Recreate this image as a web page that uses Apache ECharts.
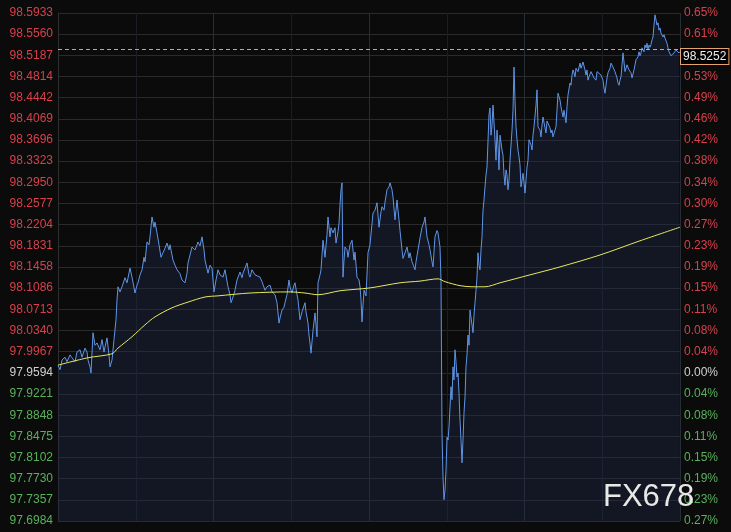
<!DOCTYPE html>
<html><head><meta charset="utf-8">
<script src="https://cdn.jsdelivr.net/npm/echarts@6/dist/echarts.min.js"></script>
<style>html,body{margin:0;padding:0;background:#0b0b0b;}#c{width:731px;height:532px;}</style>
</head><body><div id="c"></div>
<script>
const priceLabels = ['98.5933','98.5560','98.5187','98.4814','98.4442','98.4069','98.3696','98.3323','98.2950','98.2577','98.2204','98.1831','98.1458','98.1086','98.0713','98.0340','97.9967','97.9594','97.9221','97.8848','97.8475','97.8102','97.7730','97.7357','97.6984'];
const pctLabels = ['0.65%','0.61%','0.57%','0.53%','0.49%','0.46%','0.42%','0.38%','0.34%','0.30%','0.27%','0.23%','0.19%','0.15%','0.11%','0.08%','0.04%','0.00%','0.04%','0.08%','0.11%','0.15%','0.19%','0.23%','0.27%'];
const basePrice = 97.9594;
const lastPrice = 98.5252;
const watermark = 'FX678';

const priceTimes = [0,2,4,7,9,12,14,17,19,22,24,27,29,30,32,33,35,37,39,42,44,46,47,49,51,52,54,56,58,59,60,62,64,67,69,72,74,77,79,80,82,84,86,87,89,91,92,94,96,97,99,101,103,105,107,109,111,112,115,117,119,122,124,127,129,130,132,134,137,139,140,142,144,146,147,150,152,154,156,158,160,
162,165,167,170,172,173,175,177,179,182,184,185,187,189,191,192,194,195,197,199,202,204,205,207,209,212,214,215,217,219,221,222,224,226,227,229,231,232,234,236,237,239,240,242,244,245,247,248,250,251,252,253,255,257,259,260,262,263,264,265,267,269,270,272,273,275,277,278,280,281,282,283,284,285,286,287,289,290,292,294,296,297,299,301,302,303,304,305,306,308,309,310,312,315,
317,319,321,323,324,326,327,329,331,332,334,335,337,338,339,341,342,344,345,347,348,349,351,352,354,355,357,358,360,362,364,366,367,369,371,372,374,375,377,379,380,382,383,384,385,386,387,388,389,390,391,393,394,395,396,397,398,399,400,401,402,403,404,405,406,407,408,409,410,411,412,414,415,416,417,418,419,420,421,422,423,424,425,426,427,428,429,
431,432,433,434,435,437,438,439,440,441,442,444,445,446,447,448,449,450,451,452,454,455,456,457,458,459,460,461,462,463,464,465,466,467,468,469,470,471,473,474,475,476,478,479,480,482,483,484,485,487,488,489,490,492,493,494,495,497,498,499,500,502,503,504,505,506,508,509,510,512,513,514,515,516,517,518,519,520,522,523,524,525,527,528,529,530,531,533,535,536,538,539,541,543,545,546,547,548,549,550,552,553,554,555,557,558,559,560,561,562,563,564,565,566,567,568,569,570,571,572,573,574,575,576,577,578,579,580,581,582,583,584,585,586,587,588,589,590,591,592,593,594,595,596,597,598,599,600,601,602,603,604,605,606,607,608,609,610,611,612,613,614,615,616,617,618,619,620,621,622];

const priceValues = [97.973,97.965,97.982,97.987,97.979,97.991,97.986,97.979,97.996,98.000,97.987,98.003,97.996,97.982,97.970,97.959,98.030,98.008,98.012,98.000,98.018,97.996,98.005,98.021,97.991,97.970,97.982,98.018,98.053,98.088,98.111,98.102,98.111,98.127,98.118,98.144,98.128,98.100,98.114,98.118,98.132,98.141,98.163,98.155,98.190,98.185,98.199,98.234,98.216,98.225,98.206,98.185,98.163,98.171,98.179,98.188,98.176,98.185,98.158,98.149,98.141,98.134,98.123,98.118,98.135,98.153,98.167,98.181,98.176,98.185,98.190,98.183,98.199,98.176,98.158,98.135,98.149,98.144,98.102,98.123,98.141,
98.132,98.128,98.141,98.111,98.097,98.083,98.093,98.105,98.123,98.137,98.127,98.135,98.144,98.153,98.132,98.128,98.141,98.144,98.132,98.135,98.128,98.120,98.118,98.105,98.111,98.114,98.102,98.105,98.097,98.083,98.047,98.056,98.070,98.075,98.083,98.097,98.123,98.111,98.100,98.114,98.118,98.097,98.088,98.053,98.067,98.070,98.083,98.067,98.047,98.026,98.012,97.994,98.034,98.065,98.023,98.118,98.132,98.141,98.167,98.193,98.163,98.203,98.234,98.199,98.215,98.206,98.215,98.188,98.208,98.223,98.255,98.282,98.294,98.128,98.158,98.181,98.176,98.163,98.185,98.193,98.158,98.172,98.128,98.123,98.111,98.088,98.049,98.079,98.105,98.095,98.093,98.171,98.185,98.241,
98.246,98.259,98.216,98.243,98.252,98.246,98.260,98.282,98.287,98.294,98.282,98.269,98.229,98.246,98.264,98.229,98.210,98.176,98.161,98.163,98.176,98.181,98.162,98.171,98.155,98.158,98.141,98.155,98.176,98.197,98.216,98.225,98.234,98.199,98.185,98.176,98.155,98.146,98.199,98.210,98.206,98.181,98.123,97.853,97.776,97.736,97.753,97.788,97.846,97.841,97.864,97.935,97.912,97.970,97.947,98.000,97.979,97.952,97.959,97.924,97.876,97.841,97.801,97.841,97.889,97.917,97.970,97.991,98.026,98.008,98.070,98.044,98.030,98.061,98.083,98.105,98.128,98.171,98.149,98.141,98.176,98.199,98.246,98.264,98.287,98.308,98.322,
98.414,98.426,98.378,98.396,98.431,98.370,98.334,98.387,98.361,98.317,98.378,98.352,98.343,98.308,98.290,98.317,98.308,98.282,98.299,98.334,98.387,98.422,98.498,98.440,98.393,98.370,98.352,98.340,98.326,98.287,98.299,98.311,98.294,98.276,98.299,98.322,98.334,98.370,98.361,98.352,98.378,98.393,98.431,98.458,98.393,98.387,98.375,98.396,98.410,98.391,98.382,98.403,98.400,98.391,98.382,98.387,98.375,98.387,98.393,98.422,98.452,98.440,98.428,98.419,98.410,98.422,98.400,98.428,98.449,98.470,98.466,98.484,98.493,98.488,98.481,98.496,98.498,98.490,98.505,98.496,98.493,98.507,98.493,98.484,98.493,98.475,98.481,98.490,98.488,98.479,98.475,98.490,98.493,98.484,98.475,98.461,98.452,98.466,98.479,98.488,98.496,98.505,98.502,98.498,98.490,98.493,98.479,98.470,98.466,98.475,98.481,98.502,98.523,98.507,98.490,98.493,98.502,98.505,98.493,98.496,98.488,98.479,98.481,98.493,98.502,98.511,98.514,98.516,98.525,98.518,98.523,98.532,98.533,98.525,98.537,98.532,98.540,98.528,98.537,98.533,98.538,98.546,98.551,98.572,98.590,98.581,98.572,98.576,98.563,98.567,98.558,98.555,98.551,98.555,98.549,98.546,98.540,98.532,98.525,98.523,98.518,98.519,98.516,98.523,98.525,98.528,98.525,98.526,98.523,98.5252];

const maTimes = [0,30,54,60,74,87,97,114,130,147,160,192,232,247,260,282,312,342,362,380,387,402,414,427,442,472,502,542,582,622];
const maValues = [97.973,97.986,97.993,98.003,98.023,98.044,98.058,98.074,98.084,98.093,98.095,98.100,98.102,98.100,98.097,98.104,98.109,98.118,98.121,98.125,98.120,98.113,98.111,98.111,98.118,98.132,98.146,98.167,98.192,98.216];

const tickValues = priceLabels.map(Number);
function nearestIdx(v){let b=0,d=Infinity;tickValues.forEach((t,i)=>{const dd=Math.abs(t-v);if(dd<d){d=dd;b=i;}});return b;}
function styleKey(i){const t=tickValues[i];return t>basePrice+1e-6?'up':(t<basePrice-1e-6?'dn':'eq');}
const FONT='"Liberation Sans", Arial, sans-serif';
const rich={up:{color:'#d8404c',fontSize:12,fontFamily:FONT},dn:{color:'#58b25c',fontSize:12,fontFamily:FONT},eq:{color:'#d0d0d0',fontSize:12,fontFamily:FONT}};

const chart = echarts.init(document.getElementById('c'), null, {renderer:'canvas'});
chart.setOption({
  backgroundColor:'#0b0b0b',
  animation:false,
  grid:{left:58,right:51,top:13,bottom:11,outerBoundsMode:'none'},
  xAxis:{type:'value',min:0,max:622,interval:77.75,
    axisLabel:{show:false},axisTick:{show:false},axisLine:{show:false},
    splitLine:{show:true,lineStyle:{color:['#282c33','#1a1d23'],width:1}}},
  yAxis:[{type:'value',position:'left',min:97.6984,max:98.5933,scale:true,
    axisLine:{show:true,lineStyle:{color:'#2e2e2e'}},
    axisTick:{show:false,customValues:tickValues},
    axisLabel:{customValues:tickValues,margin:5,fontSize:12,fontFamily:FONT,
      formatter:function(v){const i=nearestIdx(v);return '{'+styleKey(i)+'|'+priceLabels[i]+'}';},rich:rich},
    splitLine:{show:true,lineStyle:{color:'#2a2a2a',width:1}}},
   {type:'value',position:'right',min:97.6984,max:98.5933,scale:true,
    axisLine:{show:false},axisTick:{show:false,customValues:tickValues},
    axisLabel:{customValues:tickValues,margin:4,fontSize:12,fontFamily:FONT,
      formatter:function(v){const i=nearestIdx(v);return '{'+styleKey(i)+'|'+pctLabels[i]+'}';},rich:rich},
    splitLine:{show:false}}],
  series:[
    {type:'line',name:'price',data:priceTimes.map((t,i)=>[t,priceValues[i]]),
     showSymbol:false,symbol:'none',lineStyle:{color:'#5f95e8',width:1},
     areaStyle:{origin:'start',color:'rgba(30,45,75,0.55)'},
     markLine:{symbol:'none',silent:true,animation:false,
       lineStyle:{color:'#f09a58',type:[4,3],width:1},
       label:{position:'end',distance:1,verticalAlign:'top',align:'left',
         formatter:function(){return lastPrice.toFixed(4);},
         color:'#eeeeee',fontSize:12,fontFamily:FONT,backgroundColor:'#000',
         borderColor:'#e3a26e',borderWidth:1,padding:[2,2,1,2]},
       data:[{yAxis:lastPrice}]}},
    {type:'line',name:'ma',data:maTimes.map((t,i)=>[t,maValues[i]]),
     showSymbol:false,symbol:'none',smooth:0.3,lineStyle:{color:'#e8e85c',width:1}}
  ],
  graphic:[{type:'text',left:603,top:482,z:100,
    style:{text:watermark,fill:'#e8e8e8',font:'31px "Liberation Sans", Arial, sans-serif',
      shadowColor:'rgba(0,0,0,0.8)',shadowBlur:2,shadowOffsetX:1,shadowOffsetY:1}}]
});
</script></body></html>
